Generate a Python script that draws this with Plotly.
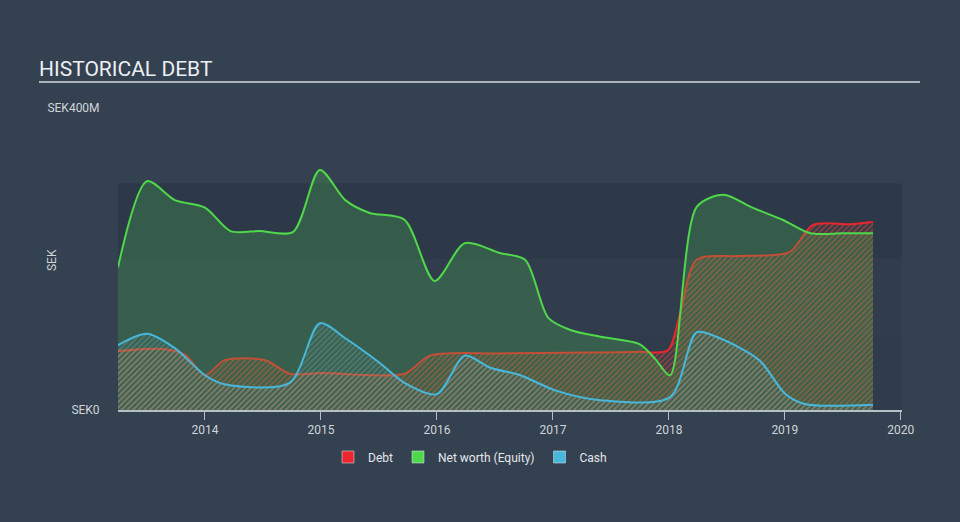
import plotly.graph_objects as go

# ---------------- data (values in SEK millions, x in decimal years) ----------------
equity_x = [2013.25, 2013.50, 2013.74, 2014.00, 2014.22, 2014.47, 2014.76, 2014.99,
            2015.21, 2015.42, 2015.72, 2015.98, 2016.24, 2016.54, 2016.76, 2016.96,
            2017.15, 2017.41, 2017.75, 2017.88, 2018.01, 2018.24, 2018.47, 2018.72,
            2018.98, 2019.22, 2019.50, 2019.76]
equity_y = [189, 303, 278, 268, 237, 237, 236, 318,
            278, 261, 252, 171, 221, 208, 199, 122,
            106, 97, 87, 68, 46, 269, 285, 268,
            252, 234, 234, 234]

debt_x = [2013.25, 2013.61, 2013.83, 2014.00, 2014.17, 2014.52, 2014.73, 2015.00,
          2015.72, 2015.94, 2016.54, 2017.30, 2017.75, 2017.99, 2018.10, 2018.24,
          2018.60, 2019.04, 2019.24, 2019.56, 2019.76]
debt_y = [78, 81, 73, 46, 66, 66, 48, 49,
          48, 72, 75, 76, 77, 79, 130, 199,
          204, 209, 245, 246, 249]

cash_x = [2013.25, 2013.50, 2013.74, 2014.00, 2014.17, 2014.73, 2014.99, 2015.21,
          2015.51, 2015.72, 2016.00, 2016.24, 2016.46, 2016.72, 2017.02, 2017.41,
          2018.01, 2018.24, 2018.44, 2018.78, 2019.00, 2019.17, 2019.76]
cash_y = [86, 101, 82, 46, 34, 36, 115, 95,
          62, 36, 21, 72, 56, 46, 26, 13,
          17, 103, 95, 66, 22, 8, 7]

year_ticks = [2014, 2015, 2016, 2017, 2018, 2019, 2020]
year_labels = ["2014", "2015", "2016", "2017", "2018", "2019", "2020"]
y_ticks = [0, 400]
y_labels = ["SEK0", "SEK400M"]
bands = [(0, 100), (100, 200), (200, 300)]
band_colors = ["#303c4c", "#313d4d", "#2d3949"]

DEBT = "#e8272e"
EQUITY = "#4fd84a"
CASH = "#47b8dc"
BG = "#344151"
FONT = "Roboto"

fig = go.Figure()

# Debt (hatched)
fig.add_trace(go.Scatter(
    x=debt_x, y=debt_y, mode="lines", line=dict(color=DEBT, width=2, shape="spline", smoothing=0.8),
    fill="tozeroy", fillcolor="rgba(0,0,0,0)",
    fillpattern=dict(shape="/", fgcolor="rgba(235,75,50,0.95)", bgcolor="rgba(0,0,0,0)",
                     size=4, solidity=0.5),
    showlegend=False, hoverinfo="skip"))

# Equity (translucent green)
fig.add_trace(go.Scatter(
    x=equity_x, y=equity_y, mode="lines", line=dict(color=EQUITY, width=2, shape="spline", smoothing=0.8),
    fill="tozeroy", fillcolor="rgba(80,200,80,0.25)",
    showlegend=False, hoverinfo="skip"))

# Cash (hatched blue)
fig.add_trace(go.Scatter(
    x=cash_x, y=cash_y, mode="lines", line=dict(color=CASH, width=2, shape="spline", smoothing=0.8),
    fill="tozeroy", fillcolor="rgba(71,184,220,0.14)",
    fillpattern=dict(shape="/", fgcolor="rgba(130,190,205,0.55)", bgcolor="rgba(0,0,0,0)",
                     size=4, solidity=0.5),
    showlegend=False, hoverinfo="skip"))

# Legend entries (square swatches)
for name, col in [("Debt", DEBT), ("Net worth (Equity)", EQUITY), ("Cash", CASH)]:
    fig.add_trace(go.Bar(x=[None], y=[None], name=name, marker=dict(color=col), showlegend=True))

# Background bands
shapes = []
for (lo, hi), c in zip(bands, band_colors):
    shapes.append(dict(type="rect", xref="paper", yref="y", x0=0, x1=1, y0=lo, y1=hi,
                       fillcolor=c, line=dict(width=0), layer="below"))
# Title underline
shapes.append(dict(type="line", xref="paper", yref="paper",
                   x0=(39 - 118) / 784, x1=(920 - 118) / 784,
                   y0=(410 - 82) / 302, y1=(410 - 82) / 302,
                   line=dict(color="#aeb4bb", width=2)))

annotations = [
    dict(text="HISTORICAL DEBT", xref="paper", yref="paper",
         x=(37 - 118) / 784, y=(410 - 69) / 302, xanchor="left", yanchor="middle",
         showarrow=False, font=dict(family=FONT, size=21, color="#eceff2")),
    dict(text="SEK", xref="paper", yref="paper",
         x=(52 - 118) / 784, y=(410 - 260) / 302, xanchor="center", yanchor="middle",
         textangle=-90, showarrow=False, font=dict(family=FONT, size=12, color="#d0d4d8")),
]

fig.update_layout(
    width=960, height=522,
    margin=dict(l=118, r=58, t=108, b=112),
    paper_bgcolor=BG, plot_bgcolor=BG,
    font=dict(family=FONT, size=12, color="#d0d4d8"),
    shapes=shapes, annotations=annotations,
    barmode="overlay",
    legend=dict(orientation="h", x=(470 - 118) / 784, xanchor="center",
                y=(410 - 457) / 302, yanchor="middle",
                font=dict(family=FONT, size=12, color="#e4e7ea"),
                bgcolor="rgba(0,0,0,0)", itemwidth=30),
    xaxis=dict(range=[2013.25, 2020.01], tickvals=year_ticks, ticktext=year_labels,
               showgrid=False, zeroline=False, showline=True, linecolor="#b8bec6", linewidth=2,
               ticks="outside", ticklen=8, tickcolor="#b8bec6", tickwidth=1,
               tickfont=dict(family=FONT, size=12, color="#d0d4d8")),
    yaxis=dict(range=[0, 400], tickvals=y_ticks, ticktext=y_labels,
               showgrid=False, zeroline=False, showline=False,
               ticks="outside", ticklen=15, tickcolor="rgba(0,0,0,0)",
               tickfont=dict(family=FONT, size=12, color="#d0d4d8")),
)

fig.write_html("out.html")
